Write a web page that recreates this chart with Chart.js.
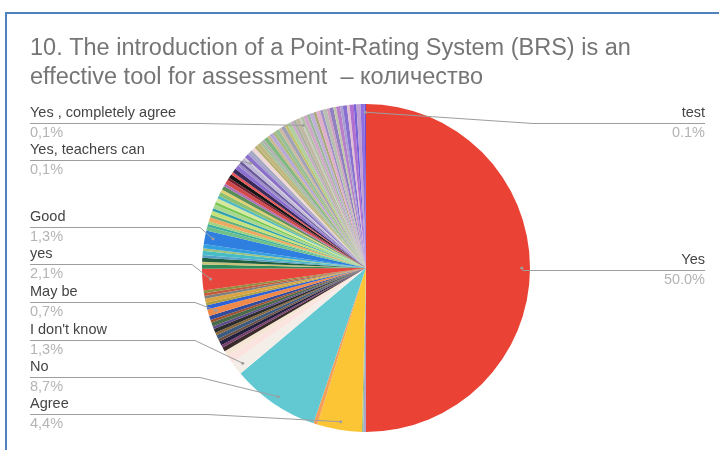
<!DOCTYPE html>
<html>
<head>
<meta charset="utf-8">
<script src="https://cdn.jsdelivr.net/npm/chart.js@4.4.1/dist/chart.umd.min.js"></script>
<style>
  html, body { margin: 0; padding: 0; background: #fff; }
  #brs-chart { display: block; }
</style>
</head>
<body>
<canvas id="brs-chart" width="719" height="450"></canvas>
<script>
const titleLines = ["10. The introduction of a Point-Rating System (BRS) is an", "effective tool for assessment  \u2013 количество"];

// answers in clockwise order from 12 o'clock, '' = answer text not readable in the picture
const answers = [
  "Yes", "", "", "Agree", "", "No", "I don't know", "", "",
  "", "", "", "", "", "", "", "", "", "", "",
  "May be",
  "", "", "", "", "", "",
  "yes",
  "", "", "", "", "", "", "",
  "Good",
  "", "", "", "", "", "", "", "", "", "", "", "", "", "", "", "", "", "", "", "", "", "", "", "",
  "Yes, teachers can",
  "", "", "", "", "", "", "", "", "", "", "", "", "", "", "", "", "", "", "", "",
  "Yes , completely agree",
  "", "", "", "", "", "", "", "", "", "", "", "", "", "", "", "", "", "", "",
  "test"
];
const counts = [
  375, 2, 1, 33, 3, 65, 10, 6, 4,
  3, 2, 3, 2, 3, 2, 3, 2, 3, 2, 3,
  5,
  3, 2, 3, 2, 2, 2,
  16,
  3, 2, 3, 2, 3, 2, 3,
  10,
  3, 2, 2, 3, 2, 3, 2, 3, 2, 3, 2, 3, 2, 3, 2, 3, 2, 3, 2, 3, 3, 2, 2, 3,
  1,
  3, 2, 2, 3, 2, 3, 2, 2, 3, 2, 3, 2, 3, 2, 3, 2, 3, 2, 2, 3,
  1,
  2, 3, 2, 3, 2, 3, 2, 3, 2, 3, 2, 3, 2, 3, 2, 3, 2, 3, 3,
  1
];

const sliceColors = [
  "#ea4335", "#a9a6c9", "#8fbf8f", "#fbc536", "#f4a05a", "#62c9d3", "#f3eee8", "#fbe3e0", "#f5e6d3",
  "#3b2a2a", "#7a3f6e", "#262040", "#6d5140", "#3d5a80", "#8a6a3a", "#2d2d2d", "#5e4b8b", "#4a6b4a", "#a0522d", "#334b9b",
  "#f08a4b",
  "#2f62d6", "#b0a040", "#d9a441", "#7f7f7f", "#c55a3a", "#8e8e3e",
  "#e8453c",
  "#2e8b57", "#c8c37a", "#1f5f3f", "#5aa0c8", "#46bdc6", "#9ec27a", "#35a0e0",
  "#2f7fe0",
  "#6fbf8a", "#3fb0a0", "#9fd37f", "#f0a860", "#5fb07a", "#c6e07a", "#2fa0b0", "#a8d890", "#78c850", "#d4e8a0",
  "#4fb8c8", "#8cc070", "#e0d070", "#5a8f5a", "#b070b8", "#d24a4a", "#7a2030", "#151515", "#e85858", "#3a2a5a",
  "#8a6fd0", "#9c8cc8", "#6a5a9a", "#c0b8d8",
  "#d0d0d0",
  "#8a70c8", "#a8a0d0", "#a0a8c0", "#f0d8d8", "#b8b070", "#c0b880", "#a0c0a0", "#b0b0b0", "#80b880", "#c8b890",
  "#b8a8d8", "#a8b878", "#98c098", "#d0b8a0", "#a0a0b8", "#c0c070", "#b0d0a0", "#c8a8c8", "#a8b0a0", "#c0b8a0",
  "#c8c8c8",
  "#b0c0a0", "#d0a8c8", "#98b898", "#c0b0d8", "#a8a878", "#e0b0c8", "#a090c8", "#b8c0b0", "#d0a0c0", "#9080c0",
  "#c0c8a8", "#b880c8", "#a8a0d0", "#8870d0", "#e0c0d0", "#b070d0", "#7860d8", "#c0a0d0", "#9070e0",
  "#6a4fd0"
];

// which slices get a label, and where the label sits
const callouts = [
  { name: "Yes , completely agree", side: "left", y: 123, elbow: 200 },
  { name: "Yes, teachers can", side: "left", y: 160, elbow: 237 },
  { name: "Good", side: "left", y: 227, elbow: 200 },
  { name: "yes", side: "left", y: 264, elbow: 192 },
  { name: "May be", side: "left", y: 302, elbow: 195 },
  { name: "I don't know", side: "left", y: 340, elbow: 195 },
  { name: "No", side: "left", y: 377, elbow: 200 },
  { name: "Agree", side: "left", y: 414, elbow: 207 },
  { name: "test", side: "right", y: 123, elbow: 533 },
  { name: "Yes", side: "right", y: 270, elbow: 523 }
];

const total = counts.reduce((a, b) => a + b, 0);

const calloutPlugin = {
  id: 'callouts',
  beforeDraw(chart) {
    const ctx = chart.ctx;
    ctx.save();
    ctx.fillStyle = '#fff';
    ctx.fillRect(0, 0, chart.width, chart.height);
    // frame
    ctx.strokeStyle = '#4f81bd';
    ctx.lineWidth = 2;
    ctx.beginPath();
    ctx.moveTo(6, 460);
    ctx.lineTo(6, 13);
    ctx.lineTo(730, 13);
    ctx.stroke();
    // title
    ctx.fillStyle = '#757575';
    ctx.font = '23.5px "Liberation Sans", Arial, sans-serif';
    ctx.textBaseline = 'alphabetic';
    ctx.textAlign = 'left';
    ctx.fillText(titleLines[0], 30, 55);
    ctx.fillText(titleLines[1], 30, 84);
    ctx.restore();
  },
  afterDraw(chart) {
    const ctx = chart.ctx;
    const arcs = chart.getDatasetMeta(0).data;
    ctx.save();
    callouts.forEach(c => {
      const i = answers.indexOf(c.name);
      const arc = arcs[i];
      const mid = (arc.startAngle + arc.endAngle) / 2;
      const px = arc.x + Math.cos(mid) * arc.outerRadius * 0.95;
      const py = arc.y + Math.sin(mid) * arc.outerRadius * 0.95;
      const x0 = c.side === 'left' ? 30 : 705;

      ctx.strokeStyle = '#9e9e9e';
      ctx.lineWidth = 1;
      ctx.beginPath();
      ctx.moveTo(x0, c.y + 0.5);
      ctx.lineTo(c.elbow, c.y + 0.5);
      ctx.lineTo(px, py);
      ctx.stroke();
      ctx.fillStyle = '#9e9e9e';
      ctx.beginPath();
      ctx.arc(px, py, 1.5, 0, Math.PI * 2);
      ctx.fill();

      let pct = (counts[i] / total * 100).toFixed(1) + '%';
      if (c.side === 'left') pct = pct.replace('.', ',');
      ctx.textAlign = c.side === 'left' ? 'left' : 'right';
      ctx.textBaseline = 'middle';
      ctx.font = '14.5px "Liberation Sans", Arial, sans-serif';
      ctx.fillStyle = '#444';
      ctx.fillText(c.name, x0, c.y - 10);
      ctx.fillStyle = '#b4b4b4';
      ctx.fillText(pct, x0, c.y + 10);
    });
    ctx.restore();
  }
};

const brsCanvas = document.getElementById('brs-chart');

let brsChart = new Chart(brsCanvas, {
  type: 'pie',
  data: {
    labels: answers,
    datasets: [{
      data: counts,
      backgroundColor: sliceColors,
      borderWidth: 0
    }]
  },
  options: {
    responsive: false,
    animation: false,
    layout: {
      padding: { left: 202, right: 189, top: 104, bottom: 18 }
    },
    plugins: {
      legend: { display: false },
      tooltip: { enabled: false }
    }
  },
  plugins: [calloutPlugin]
});
</script>
</body>
</html>
